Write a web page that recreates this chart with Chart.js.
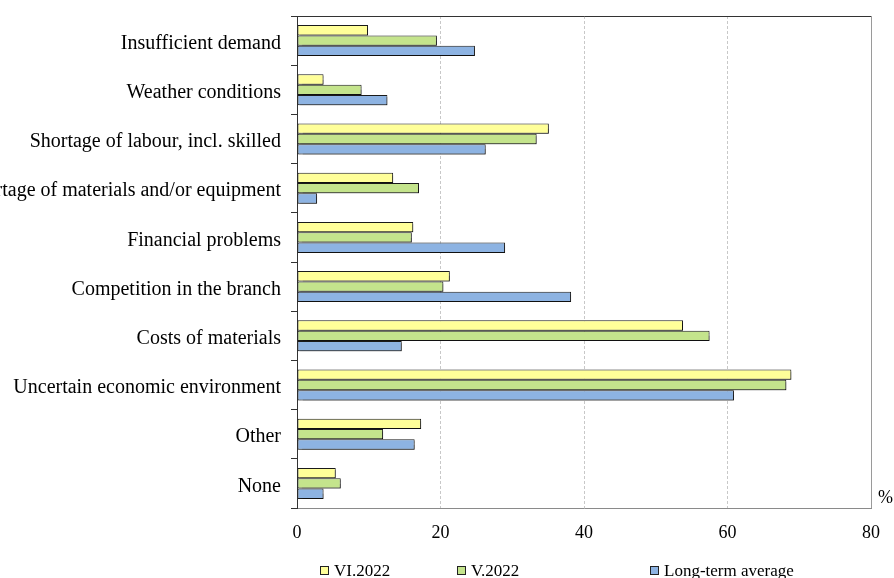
<!DOCTYPE html>
<html>
<head>
<meta charset="utf-8">
<script src="https://cdn.jsdelivr.net/npm/chart.js@4/dist/chart.umd.min.js"></script>
<style>
    body { margin: 0; background: #fff; }
    #wrap { position: relative; width: 894px; height: 578px; font-family: "Liberation Serif", "Times New Roman", serif; }
    #pct { position: absolute; left: 878px; top: 487px; font-size: 18px; color: #000; }
    .leg { position: absolute; top: 561px; font-size: 17px; color: #000; white-space: nowrap; }
    .leg i { display: inline-block; width: 7px; height: 7px; border: 1px solid #222; margin-right: 5px; vertical-align: 1px; }
</style>
</head>
<body>
<div id="wrap">
    <canvas id="myChart" width="894" height="578"></canvas>
    <div id="pct">%</div>
    <div class="leg" style="left:320px"><i style="background:#ffff99"></i>VI.2022</div>
    <div class="leg" style="left:457px"><i style="background:#c4e48c"></i>V.2022</div>
    <div class="leg" style="left:650px"><i style="background:#8db3e2"></i>Long-term average</div>
</div>
<script>
const categories = [
    'Insufficient demand',
    'Weather conditions',
    'Shortage of labour, incl. skilled',
    'Shortage of materials and/or equipment',
    'Financial problems',
    'Competition in the branch',
    'Costs of materials',
    'Uncertain economic environment',
    'Other',
    'None'
];
const vi2022 = [9.9, 3.7, 35.1, 13.4, 16.2, 21.3, 53.8, 68.9, 17.3, 5.4];
const v2022 = [19.5, 9.0, 33.4, 17.0, 16.0, 20.4, 57.5, 68.2, 12.0, 6.1];
const longTerm = [24.8, 12.6, 26.3, 2.8, 29.0, 38.2, 14.6, 60.9, 16.4, 3.7];
const xTicks = [0, 20, 40, 60, 80];

const serif = '"Liberation Serif", "Times New Roman", serif';

// soft shadow under bars, like the original
const barShadow = {
    id: 'barShadow',
    beforeDatasetsDraw(chart) {
        const ctx = chart.ctx;
        ctx.save();
        ctx.shadowColor = 'rgba(0,0,0,0.35)';
        ctx.shadowOffsetX = 2;
        ctx.shadowOffsetY = 2;
        ctx.shadowBlur = 1;
    },
    afterDatasetsDraw(chart) {
        chart.ctx.restore();
    }
};

const ctx = document.getElementById('myChart').getContext('2d');
const myChart = new Chart(ctx, {
    type: 'bar',
    data: {
        labels: categories,
        datasets: [{
            label: 'VI.2022',
            data: vi2022,
            backgroundColor: '#ffff99'
        }, {
            label: 'V.2022',
            data: v2022,
            backgroundColor: '#c4e48c'
        }, {
            label: 'Long-term average',
            data: longTerm,
            backgroundColor: '#8db3e2'
        }]
    },
    options: {
        indexAxis: 'y',
        responsive: false,
        animation: false,
        layout: { padding: { top: 16, right: 23, left: 0, bottom: 0 } },
        datasets: {
            bar: {
                borderColor: '#1a1a1a',
                borderWidth: 1,
                borderSkipped: false,
                categoryPercentage: 0.63,
                barPercentage: 1
            }
        },
        plugins: {
            legend: { display: false },
            tooltip: { enabled: false }
        },
        scales: {
            x: {
                min: 0,
                max: 80,
                afterBuildTicks: (scale) => { scale.ticks = xTicks.map(v => ({ value: v })) },
                afterFit: (scale) => { scale.height = 70 },
                ticks: {
                    padding: 14,
                    color: '#000',
                    font: { family: serif, size: 18 }
                },
                grid: {
                    drawTicks: false,
                    color: (c) => (c.tick && c.tick.value === 80) ? '#9a9a9a' : '#c8c8c8'
                },
                border: {
                    color: '#8a8a8a',
                    dash: (c) => (c.tick && c.tick.value !== 80) ? [3, 2] : []
                }
            },
            y: {
                afterFit: (scale) => {
                    scale.width = 297
                    scale.paddingTop = 0
                    scale.paddingBottom = 0
                },
                ticks: {
                    padding: 10,
                    labelOffset: 3,
                    color: '#000',
                    font: { family: serif, size: 20 }
                },
                grid: {
                    offset: true,
                    tickLength: 6,
                    tickColor: '#333',
                    color: (c) => c.index === 0 ? '#333' : 'rgba(0,0,0,0)'
                },
                border: { color: '#333' }
            }
        }
    },
    plugins: [barShadow]
});
</script>
</body>
</html>
